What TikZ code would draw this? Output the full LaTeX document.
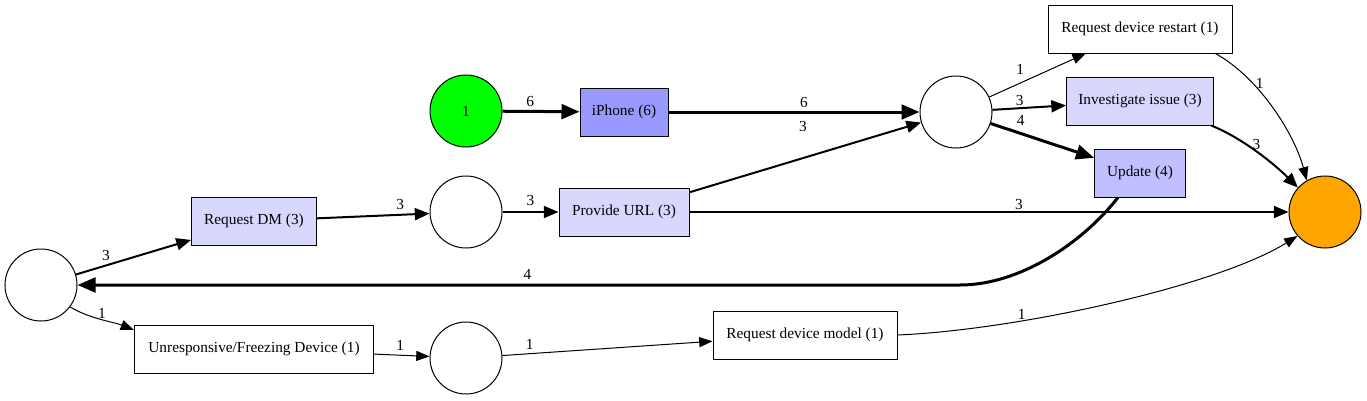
\documentclass[tikz,border=0pt]{standalone}
\usepackage{fontspec}
\setmainfont{Liberation Serif}
\usetikzlibrary{arrows.meta}

\definecolor{trDark}{RGB}{153,153,255}
\definecolor{trMid}{RGB}{192,192,255}
\definecolor{trLight}{RGB}{216,216,255}
\definecolor{srcGreen}{RGB}{0,255,0}
\definecolor{endOrange}{RGB}{255,165,0}

\tikzset{
  place/.style={circle,draw,line width=0.75pt,minimum size=54pt,inner sep=0pt,font=\fontsize{11.5}{13}\selectfont},
  trans/.style={rectangle,draw,line width=0.75pt,minimum height=36pt,inner sep=0pt,font=\fontsize{11.5}{13}\selectfont},
  lbl/.style={inner sep=1pt,font=\fontsize{11.5}{13}\selectfont},
  arcthin/.style={line width=0.75pt,-{Triangle[length=10pt,width=7.5pt]}},
  arcmid/.style={line width=1.5pt,-{Triangle[length=11pt,width=9pt]}},
  arcthick/.style={line width=2.25pt,-{Triangle[length=13.5pt,width=11pt]}}
}

\begin{document}
\begin{tikzpicture}[x=0.75pt,y=0.75pt,yscale=-1,xscale=1]
\useasboundingbox (0,0) rectangle (1367,400);

%Shape: Circle [places]
\node[place,fill=srcGreen] (src) at (466,111) {1};
\node[place] (pa) at (956,112) {};
\node[place] (p0) at (41,285) {};
\node[place] (p1) at (466,212) {};
\node[place] (p3) at (466,358) {};
\node[place,fill=endOrange] (sink) at (1325,212) {};

%Shape: Rectangle [transitions]
\node[trans,fill=trDark,minimum width=66pt] (iph) at (624,112) {iPhone (6)};
\node[trans,fill=white,minimum width=138pt] (rst) at (1140,29) {Request device restart (1)};
\node[trans,fill=trLight,minimum width=110.25pt] (inv) at (1140,101) {Investigate issue (3)};
\node[trans,fill=trMid,minimum width=68.25pt] (upd) at (1140,173) {Update (4)};
\node[trans,fill=trLight,minimum width=93.75pt] (reqdm) at (254,221) {Request DM (3)};
\node[trans,fill=trLight,minimum width=97.5pt] (url) at (624,212) {Provide URL (3)};
\node[trans,fill=white,minimum width=179.25pt] (unr) at (254,349) {Unresponsive/Freezing Device (1)};
\node[trans,fill=white,minimum width=138pt] (mdl) at (805,335) {Request device model (1)};

\coordinate (bend) at (960,285);

%Straight Lines
\draw[arcthick] (src) -- node[lbl,pos=.36,above=1.5pt]{6} (iph);
\draw[arcthick] (iph) -- node[lbl,pos=.54,above=1.5pt]{6} (pa);
\draw[arcmid] (url) -- node[lbl,pos=.49,yshift=24pt]{3} (pa);
\draw[arcthin] (pa) -- node[lbl,pos=.32,above=5pt]{1} (rst);
\draw[arcmid] (pa) -- node[lbl,pos=.37,above]{3} (inv);
\draw[arcthick] (pa) -- node[lbl,pos=.29,above=4pt]{4} (upd);
\draw[arcmid] (url) -- node[lbl,pos=.55,above]{3} (sink);
\draw[arcmid] (p0) -- node[lbl,pos=.26,above=2pt]{3} (reqdm);
\draw[arcmid] (reqdm) -- node[lbl,pos=.74,above=2pt]{3} (p1);
\draw[arcmid] (p1) -- node[lbl,pos=.5,above=3pt]{3} (url);
\draw[arcthin] (unr) -- node[lbl,pos=.47,above=2pt]{1} (p3);
\draw[arcthin] (p3) -- node[lbl,pos=.13,above=2pt]{1} (mdl);

%Curves
\draw[arcthin] (rst.-18) .. controls +(45,25) and +(-12,-45) .. node[lbl,pos=.3,right=1pt]{1} (sink.120);
\draw[arcmid] (inv.-19) .. controls +(30,12) and +(-25,-25) .. node[lbl,pos=.5,above]{3} (sink.138);
\draw[arcthin] (mdl.east) .. controls +(120,-5) and +(-80,50) .. node[lbl,pos=.3,above]{1} (sink.221);
\draw[arcthin] (p0.-37) .. controls +(20,12) and +(-20,-8) .. node[lbl,pos=.5,above]{1} (unr.171);
\draw[arcthick] (upd.228) .. controls +(-35,45) and +(60,0) .. (bend) -- node[lbl,pos=.49,above=2pt]{4} (p0);

\end{tikzpicture}
\end{document}
